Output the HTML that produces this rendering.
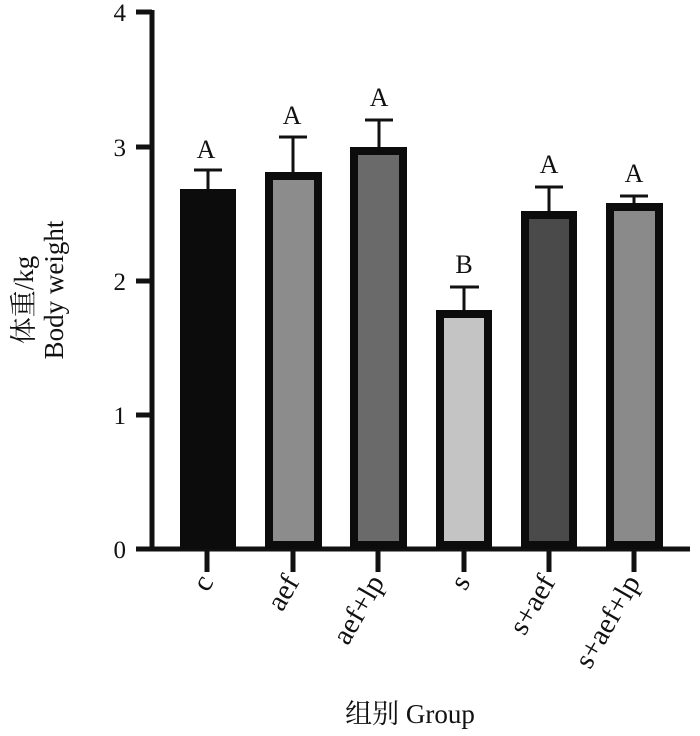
<!DOCTYPE html><html><head><style>body{margin:0;background:#fff}</style></head><body>
<svg width="700" height="731" xmlns="http://www.w3.org/2000/svg" font-family="Liberation Serif, Noto Serif CJK SC, serif">
<g stroke="#111" stroke-width="5" fill="none">
<line x1="152" y1="10" x2="152" y2="551"/>
<line x1="150" y1="549" x2="690" y2="549"/>
<line x1="136" y1="12" x2="152" y2="12"/>
<line x1="136" y1="147" x2="152" y2="147"/>
<line x1="136" y1="281" x2="152" y2="281"/>
<line x1="136" y1="415" x2="152" y2="415"/>
<line x1="136" y1="549" x2="152" y2="549"/>
<line x1="207" y1="549" x2="207" y2="572"/>
<line x1="293" y1="549" x2="293" y2="572"/>
<line x1="378" y1="549" x2="378" y2="572"/>
<line x1="464" y1="549" x2="464" y2="572"/>
<line x1="549" y1="549" x2="549" y2="572"/>
<line x1="634" y1="549" x2="634" y2="572"/>
</g>
<g font-size="25" text-anchor="end" fill="#111">
<text x="126" y="21">4</text><text x="126" y="156">3</text><text x="126" y="290">2</text><text x="126" y="424">1</text><text x="126" y="558">0</text>
</g>
<g stroke="#111" stroke-width="3">
<line x1="208" y1="189" x2="208" y2="170"/><line x1="194" y1="170" x2="222" y2="170"/>
<line x1="293" y1="172" x2="293" y2="137"/><line x1="279" y1="137" x2="307" y2="137"/>
<line x1="379" y1="147" x2="379" y2="120"/><line x1="365" y1="120" x2="393" y2="120"/>
<line x1="464" y1="310" x2="464" y2="287"/><line x1="450" y1="287" x2="479" y2="287"/>
<line x1="549" y1="211" x2="549" y2="187"/><line x1="535" y1="187" x2="563" y2="187"/>
<line x1="634" y1="203" x2="634" y2="196"/><line x1="620" y1="196" x2="648" y2="196"/>
</g>
<g stroke="#0c0c0c" stroke-width="8">
<rect x="184" y="193" width="48" height="352" fill="#0c0c0c"/>
<rect x="269" y="176" width="49" height="369" fill="#8c8c8c"/>
<rect x="354" y="151" width="49" height="394" fill="#6a6a6a"/>
<rect x="440" y="314" width="48" height="231" fill="#c4c4c4"/>
<rect x="525" y="215" width="48" height="330" fill="#4a4a4a"/>
<rect x="610" y="207" width="49" height="338" fill="#8a8a8a"/>
</g>
<g font-size="26" text-anchor="middle" fill="#111">
<text x="206" y="158">A</text><text x="292" y="124">A</text><text x="379" y="106">A</text>
<text x="464" y="273">B</text><text x="549" y="173">A</text><text x="634" y="182">A</text>
</g>
<g font-size="29" text-anchor="end" fill="#111">
<text transform="translate(214,582) rotate(-60)">c</text>
<text transform="translate(300,582) rotate(-60)">aef</text>
<text transform="translate(385,582) rotate(-60)">aef+lp</text>
<text transform="translate(471,582) rotate(-60)">s</text>
<text transform="translate(556,582) rotate(-60)">s+aef</text>
<text transform="translate(641,582) rotate(-60)">s+aef+lp</text>
</g>
<text x="410" y="723" font-size="27" text-anchor="middle" fill="#111">组别 Group</text>
<g font-size="27" text-anchor="middle" fill="#111">
<text transform="translate(33,300) rotate(-90)">体重/kg</text>
<text transform="translate(63,290) rotate(-90)">Body weight</text>
</g>
</svg></body></html>
